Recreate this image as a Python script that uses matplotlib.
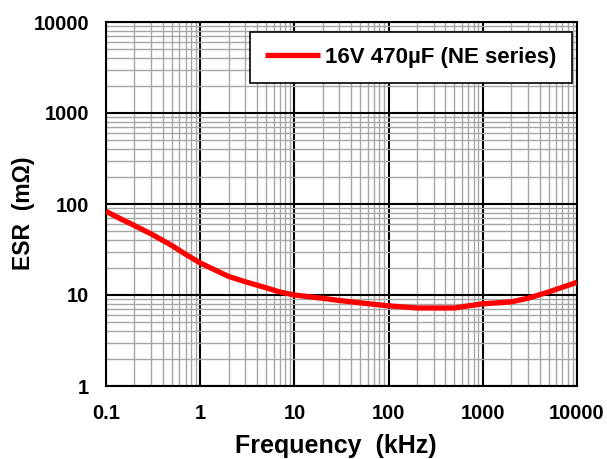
import matplotlib
matplotlib.use("Agg")
import matplotlib.pyplot as plt
from matplotlib.ticker import LogLocator, FixedLocator, FixedFormatter, NullFormatter

freq_khz = [0.1, 0.15, 0.2, 0.3, 0.5, 0.7, 1, 2, 3, 5, 7, 10, 20, 30, 50, 100,
            200, 300, 500, 700, 1000, 2000, 3000, 5000, 10000]
esr_mohm = [83, 67, 58, 47, 35, 28, 22.5, 16, 14, 12, 10.8, 10, 9.2, 8.7, 8.2, 7.6,
            7.2, 7.2, 7.2, 7.6, 8.0, 8.4, 9.2, 10.8, 13.8]
series_label = "16V 470\u00b5F (NE series)"
x_ticks = [0.1, 1, 10, 100, 1000, 10000]
x_labels = ["0.1", "1", "10", "100", "1000", "10000"]
y_ticks = [1, 10, 100, 1000, 10000]
y_labels = ["1", "10", "100", "1000", "10000"]

plt.rcParams['font.family'] = ['Liberation Sans', 'DejaVu Sans']
fig = plt.figure(figsize=(6.07, 4.59), dpi=100)
ax = fig.add_axes([106/607, 1-386/459, (577-106)/607, (386-22)/459])

ax.plot(freq_khz, esr_mohm, color='#ff0000', lw=3.8, label=series_label, solid_capstyle='butt', zorder=3)
ax.set_xscale('log')
ax.set_yscale('log')
ax.set_xlim(0.1, 10000)
ax.set_ylim(1, 10000)

ax.xaxis.set_major_locator(FixedLocator(x_ticks))
ax.xaxis.set_major_formatter(FixedFormatter(x_labels))
ax.yaxis.set_major_locator(FixedLocator(y_ticks))
ax.yaxis.set_major_formatter(FixedFormatter(y_labels))
ax.xaxis.set_minor_locator(LogLocator(base=10, subs=range(2, 10), numticks=20))
ax.yaxis.set_minor_locator(LogLocator(base=10, subs=range(2, 10), numticks=20))
ax.xaxis.set_minor_formatter(NullFormatter())
ax.yaxis.set_minor_formatter(NullFormatter())

ax.grid(which='minor', color='#a6a6a6', lw=1.0, zorder=1)
ax.grid(which='major', color='black', lw=1.5, zorder=2)
ax.set_axisbelow(True)
for s in ax.spines.values():
    s.set_linewidth(1.5)
    s.set_color('black')

ax.tick_params(which='both', length=0)
ax.tick_params(axis='x', pad=13, labelsize=14.5)
ax.tick_params(axis='y', pad=12, labelsize=14.5)
for lab in ax.get_xticklabels() + ax.get_yticklabels():
    lab.set_fontweight('bold')

ax.set_xlabel("Frequency  (kHz)", fontsize=18, fontweight='bold')
ax.xaxis.set_label_coords((336-106)/471, (386-434)/364)
ax.set_ylabel("ESR  (m\u03a9)", fontsize=16.5, fontweight='bold', va='center')
ax.yaxis.set_label_coords((23-106)/471, (386-213)/364)

leg = ax.legend(loc='upper right', bbox_to_anchor=(0.989, 0.9725),
                prop={'weight': 'bold', 'size': 16}, frameon=True, fancybox=False,
                edgecolor='black', framealpha=1, handlelength=2.45, borderpad=0.68,
                handletextpad=0.25, borderaxespad=0)
leg.get_frame().set_linewidth(1.2)

fig.savefig("out.png", dpi=100)
